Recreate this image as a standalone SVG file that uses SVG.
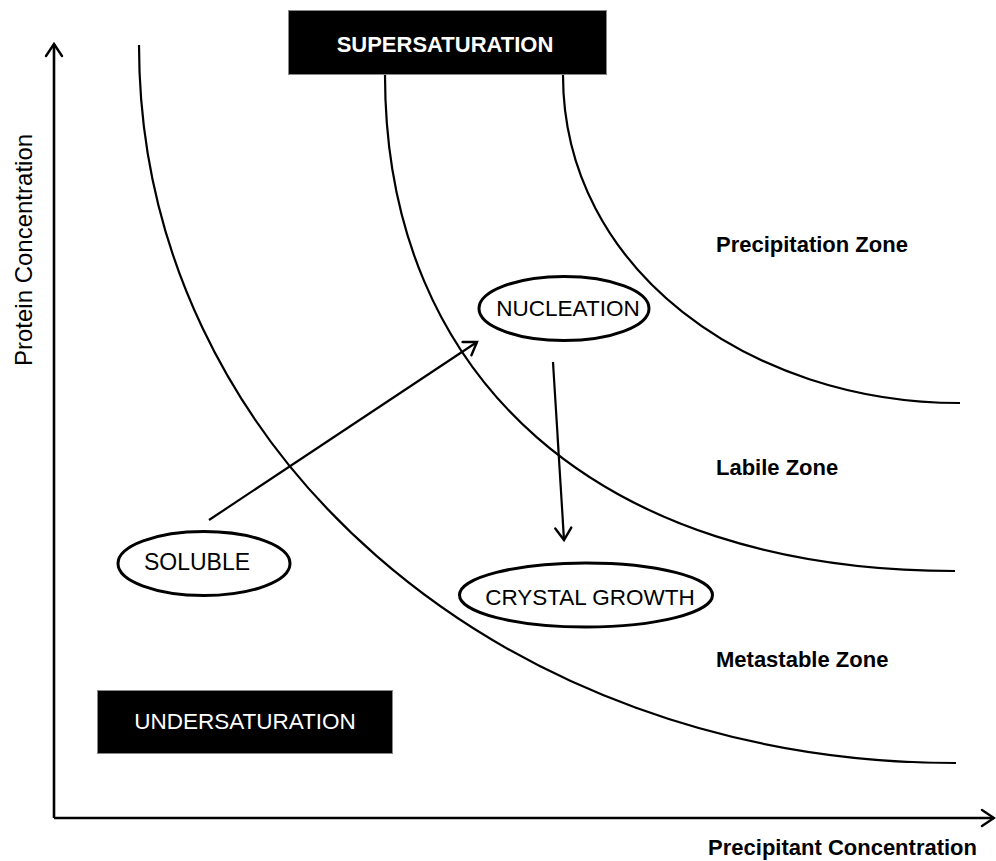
<svg xmlns="http://www.w3.org/2000/svg" width="996" height="861" viewBox="0 0 996 861">
<defs>
<marker id="chev" markerUnits="userSpaceOnUse" markerWidth="18" markerHeight="20" refX="14" refY="9" orient="auto" overflow="visible">
<path d="M2,1 L14,9 L2,17" fill="none" stroke="#000" stroke-width="2.4" stroke-linecap="round" stroke-linejoin="miter"/>
</marker>
</defs>
<style>
.curve{fill:none;stroke:#000;stroke-width:2.2}
.axis{fill:none;stroke:#000;stroke-width:2.6}
.conn{fill:none;stroke:#000;stroke-width:2.2}
.ell{fill:#fff;stroke:#000;stroke-width:3}
.box{fill:#000;stroke:#888;stroke-width:1}
.nt{font-family:"Liberation Sans",Arial,sans-serif;font-size:22.5px;fill:#000;text-anchor:middle}
.bt{font-family:"Liberation Sans",Arial,sans-serif;font-size:22px;fill:#fff;text-anchor:middle}
.zone{font-family:"Liberation Sans",Arial,sans-serif;font-size:22px;font-weight:bold;fill:#000}
</style>
<rect width="996" height="861" fill="#fff"/>
<g id="axes">
<line class="axis" x1="54" y1="818" x2="54" y2="44" marker-end="url(#chev)"/>
<line class="axis" x1="54" y1="818" x2="994" y2="818" marker-end="url(#chev)"/>
<text class="nt" font-size="24" transform="translate(32,250) rotate(-90)" style="font-size:24px">Protein Concentration</text>
<text class="zone" x="977" y="855" text-anchor="end">Precipitant Concentration</text>
</g>
<g id="curves">
<path class="curve" d="M139,45 C139,450 500,763 956,763"/>
<path class="curve" d="M385,75 C385,380 600,571 955,571"/>
<path class="curve" d="M563,75 C563,270 750,403 960,403"/>
</g>
<g id="zone-labels">
<text class="zone" x="716" y="252">Precipitation Zone</text>
<text class="zone" x="716" y="475">Labile Zone</text>
<text class="zone" x="716" y="667">Metastable Zone</text>
</g>
<g id="connectors">
<line class="conn" x1="209" y1="520" x2="477" y2="342" marker-end="url(#chev)"/>
<line class="conn" x1="553" y1="362" x2="564" y2="540" marker-end="url(#chev)"/>
</g>
<g id="supersaturation">
<rect class="box" x="288.5" y="10.5" width="318" height="64"/>
<text class="bt" x="445" y="52" font-weight="bold">SUPERSATURATION</text>
</g>
<g id="undersaturation">
<rect class="box" x="97.5" y="690.5" width="295" height="63"/>
<text class="bt" x="245" y="729" style="font-size:22.5px">UNDERSATURATION</text>
</g>
<g id="nucleation">
<ellipse class="ell" cx="564" cy="308.5" rx="85" ry="32"/>
<text class="nt" x="568" y="316">NUCLEATION</text>
</g>
<g id="soluble">
<ellipse class="ell" cx="204" cy="563.5" rx="86" ry="32"/>
<text class="nt" x="197" y="570" style="font-size:23px">SOLUBLE</text>
</g>
<g id="crystal-growth">
<ellipse class="ell" cx="586" cy="595" rx="126.5" ry="32"/>
<text class="nt" x="590" y="605">CRYSTAL GROWTH</text>
</g>
</svg>
